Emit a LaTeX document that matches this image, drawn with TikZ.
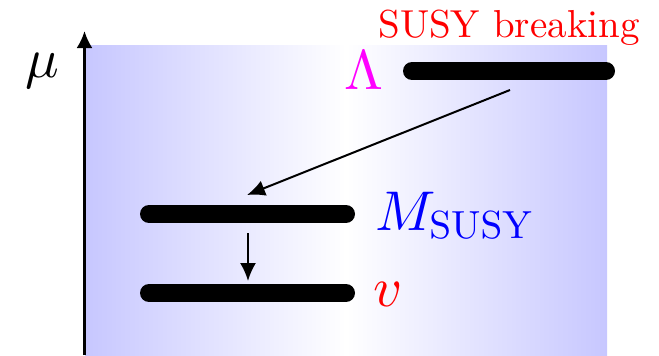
\documentclass[tikz,border=0pt]{standalone}
\usetikzlibrary{arrows.meta}
\definecolor{lammag}{RGB}{255,0,255}
\begin{document}
\begin{tikzpicture}[x=0.5pt,y=-0.5pt,
  level/.style={line width=9pt,line cap=round},
  conn/.style={line width=1pt,-{Latex[length=9pt,width=8pt]}},
  big/.style={font=\normalsize, scale=2.8, inner sep=0pt},
]
\useasboundingbox (0,0) rectangle (659,355);
\shade[left color=blue!22, right color=blue!22, middle color=white] (85,45) rectangle (607,355);
% axis
\coordinate (axb) at (84.5,355);
\coordinate (axt) at (84.5,31);
\draw[line width=1.3pt,-{Latex[length=8.5pt,width=8pt]}] (axb) -- (axt);
\node[big] (mu) at (42,71) {$\mu$};
% levels
\coordinate (l1a) at (412,71);
\coordinate (l1b) at (606,71);
\coordinate (l2a) at (149,214);
\coordinate (l2b) at (346,214);
\coordinate (l3a) at (149,293);
\coordinate (l3b) at (346,293);
\draw[level] (l1a) -- (l1b);
\draw[level] (l2a) -- (l2b);
\draw[level] (l3a) -- (l3b);
% arrows
\coordinate (a1s) at (510,90);
\coordinate (a1e) at (247,195);
\coordinate (a2s) at (248,233);
\coordinate (a2e) at (248,281);
\draw[conn] (a1s) -- (a1e);
\draw[conn] (a2s) -- (a2e);
% labels
\node[font=\normalsize, scale=1.95, red, anchor=base, inner sep=0pt] (sb) at (509,37) {SUSY breaking};
\node[big, lammag] (lam) at (364,70) {$\Lambda$};
\node[big, blue, anchor=base west] (ms) at (374,230) {$M_{\scalebox{0.7}{$\mathrm{SUSY}$}}$};
\node[big, red, anchor=base west] (vv) at (372,306) {$v$};
\end{tikzpicture}
\end{document}
